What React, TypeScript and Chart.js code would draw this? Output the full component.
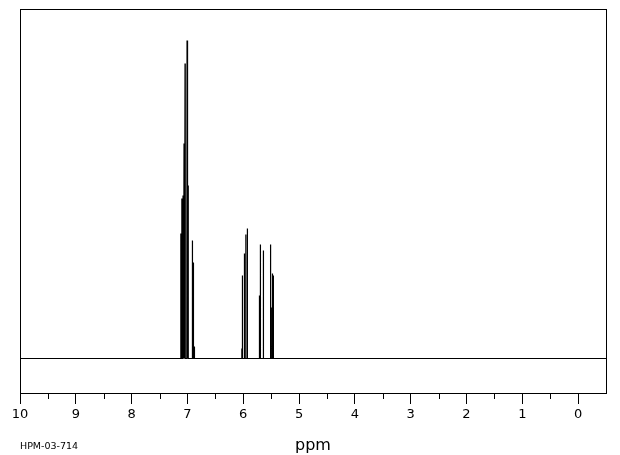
import React, { useEffect, useRef } from "react";
import { Chart, registerables } from "chart.js";

Chart.register(...registerables);

// Peak positions (ppm) and intensities (arbitrary units)
const peakPpm = [
  7.12, 7.102, 7.079, 7.061, 7.043, 7.007, 6.989, 6.912, 6.894, 6.876,
  6.027, 6.016, 5.98, 5.955, 5.927, 5.711, 5.694, 5.64, 5.514, 5.502, 5.478, 5.461,
];
const peakHeight = [
  125, 160, 163, 215, 295, 318, 173, 118, 96, 12,
  10, 83, 105, 124, 130, 63, 114, 108, 114, 51, 85, 83,
];
const majorTicks = [10, 9, 8, 7, 6, 5, 4, 3, 2, 1, 0];
const minorTicks = [9.5, 8.5, 7.5, 6.5, 5.5, 4.5, 3.5, 2.5, 1.5, 0.5];
const axisTitle = "ppm";
const sampleId = "HPM-03-714";
const xMin = -0.5;
const xMax = 10;

export default function App() {
  const ref = useRef<HTMLCanvasElement>(null);

  useEffect(() => {
    document.body.style.margin = "0";
    const canvas = ref.current!;
    const halfWidth = 0.004;
    const order = peakPpm.map((_, i) => i).sort((a, b) => peakPpm[b] - peakPpm[a]);
    const pts: { x: number; y: number }[] = [{ x: xMax, y: 0 }];
    for (const i of order) {
      pts.push({ x: peakPpm[i] + halfWidth, y: 0 });
      pts.push({ x: peakPpm[i], y: peakHeight[i] });
      pts.push({ x: peakPpm[i] - halfWidth, y: 0 });
    }
    pts.push({ x: xMin, y: 0 });

    const framePlugin = {
      id: "frame",
      afterDraw(chart: any) {
        const { ctx, chartArea } = chart;
        const xs = chart.scales.x;
        ctx.save();
        ctx.strokeStyle = "#000";
        ctx.lineWidth = 1;
        ctx.strokeRect(
          Math.round(chartArea.left) + 0.5,
          Math.round(chartArea.top) + 0.5,
          Math.round(chartArea.right - chartArea.left),
          Math.round(chartArea.bottom - chartArea.top)
        );
        ctx.beginPath();
        for (const v of minorTicks) {
          const px = Math.round(xs.getPixelForValue(v)) + 0.5;
          ctx.moveTo(px, chartArea.bottom);
          ctx.lineTo(px, chartArea.bottom + 6);
        }
        ctx.stroke();
        ctx.fillStyle = "#000";
        ctx.font = "9.5px 'DejaVu Sans'";
        ctx.textBaseline = "alphabetic";
        ctx.textAlign = "left";
        ctx.fillText(sampleId, chartArea.left, 449);
        ctx.restore();
      },
    };

    const chart = new Chart(canvas, {
      type: "line",
      data: {
        datasets: [
          {
            data: pts,
            borderColor: "#000",
            borderWidth: 1.2,
            pointRadius: 0,
            tension: 0,
            fill: false,
          },
        ],
      },
      options: {
        animation: false,
        responsive: false,
        maintainAspectRatio: false,
        parsing: false as any,
        layout: { padding: { left: 20, top: 9, right: 14, bottom: 0 } },
        plugins: { legend: { display: false }, tooltip: { enabled: false } },
        scales: {
          x: {
            type: "linear",
            reverse: true,
            min: xMin,
            max: xMax,
            afterBuildTicks: (scale: any) => {
              scale.ticks = majorTicks.map((v) => ({ value: v }));
            },
            afterFit: (scale: any) => {
              scale.height = 62;
            },
            border: { display: false },
            grid: {
              drawOnChartArea: false,
              drawTicks: true,
              tickLength: 11,
              color: "#000",
              lineWidth: 1,
            },
            ticks: {
              color: "#000",
              font: { family: "'DejaVu Sans'", size: 13 },
              padding: 3,
              maxRotation: 0,
              autoSkip: false,
              callback: (v: any) => String(v),
            },
            title: {
              display: true,
              text: axisTitle,
              color: "#000",
              font: { family: "'DejaVu Sans'", size: 16 },
              padding: { top: 4, bottom: 0 },
            },
          },
          y: {
            display: false,
            min: -34.5,
            max: 349.5,
          },
        },
      },
      plugins: [framePlugin],
    });
    return () => chart.destroy();
  }, []);

  return <canvas ref={ref} width={620} height={455} style={{ display: "block" }} />;
}
